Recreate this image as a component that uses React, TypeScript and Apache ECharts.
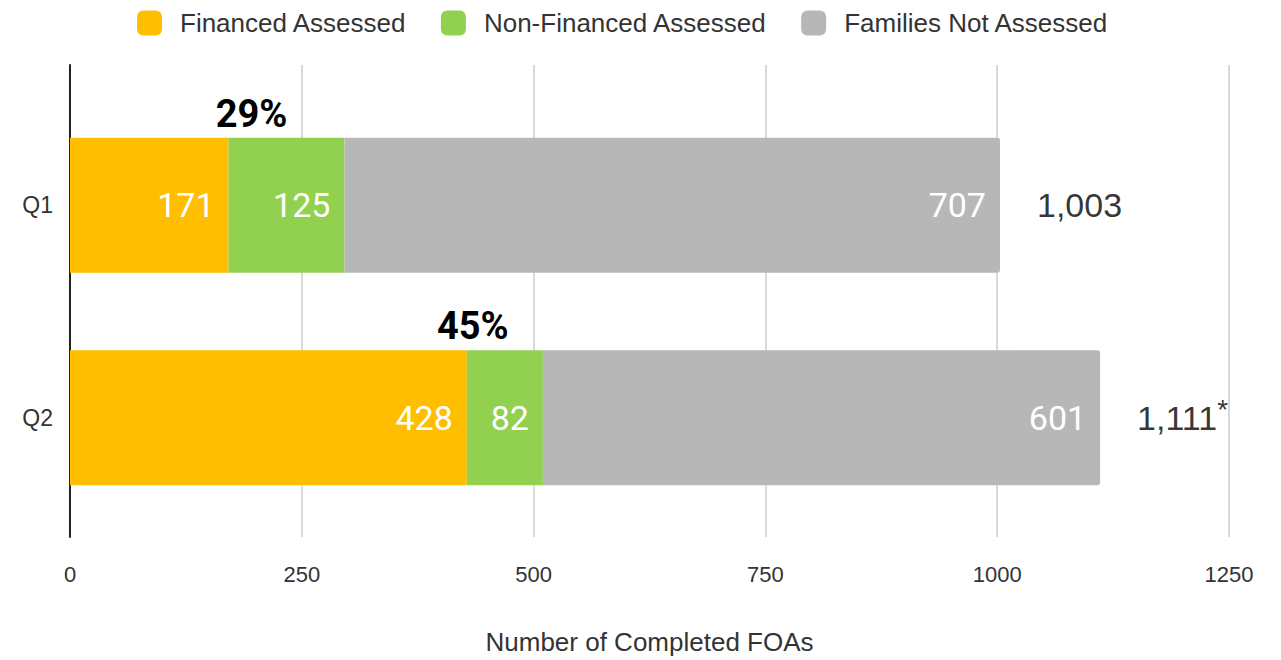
import React, { useEffect, useRef } from "react";
import * as echarts from "echarts";

const categories = ["Q1", "Q2"];
const financed = [171, 428];
const nonFinanced = [125, 82];
const notAssessed = [707, 601];
const totals = [1003, 1111];
const totalLabels = ["1,003", "1,111{sup|*}"];
const pctLabels = ["29%", "45%"];
const xTicks = [0, 250, 500, 750, 1000, 1250];

const LABEL_FONT = "Roboto, 'Noto Sans', sans-serif";
const TEXT_FONT = "'Liberation Sans', Arial, sans-serif";

export default function App() {
  const ref = useRef<HTMLDivElement>(null);
  useEffect(() => {
    if (!ref.current) return;
    const chart = echarts.init(ref.current, undefined, { renderer: "svg" });
    const inside = {
      show: true,
      position: "insideRight",
      distance: 14,
      color: "#fff",
      fontSize: 34,
      fontFamily: LABEL_FONT,
    };
    chart.setOption({
      animation: false,
      legend: {
        top: 5,
        left: 132,
        itemWidth: 25,
        itemHeight: 25,
        itemGap: 34,
        icon: "roundRect",
        textStyle: { fontSize: 26, color: "#333", fontFamily: TEXT_FONT, padding: [0, 0, 0, 13] },
        data: ["Financed Assessed", "Non-Financed Assessed", "Families Not Assessed"],
      },
      grid: [
        { left: 70, width: 1159, top: 99, height: 425 },
        { left: 70, width: 1159, top: 65, height: 490 },
      ],
      xAxis: [
        { gridIndex: 0, type: "value", min: 0, max: 1250, show: false },
        {
          gridIndex: 1,
          type: "value",
          min: 0,
          max: 1250,
          interval: 250,
          axisLine: { show: false },
          axisTick: { show: false },
          splitLine: { show: true, lineStyle: { color: "#cccccc", width: 1.5 } },
          axisLabel: {
            margin: 26,
            fontSize: 22,
            color: "#333",
            fontFamily: TEXT_FONT,
            formatter: (v: number) => (xTicks.includes(v) ? String(v) : ""),
          },
          name: "Number of Completed FOAs",
          nameLocation: "middle",
          nameGap: 92,
          nameTextStyle: { fontSize: 26, color: "#333", fontFamily: TEXT_FONT },
        },
      ],
      yAxis: [
        {
          gridIndex: 0,
          type: "category",
          data: categories,
          inverse: true,
          axisLine: { show: false },
          axisTick: { show: false },
          axisLabel: { margin: 17, fontSize: 23, color: "#333", fontFamily: TEXT_FONT },
        },
        {
          gridIndex: 1,
          type: "value",
          min: 0,
          max: 1,
          axisLine: { show: true, lineStyle: { color: "#222", width: 2 } },
          axisTick: { show: false },
          axisLabel: { show: false },
          splitLine: { show: false },
        },
      ],
      series: [
        {
          name: "Financed Assessed",
          type: "bar",
          stack: "total",
          barWidth: 135,
          itemStyle: { color: "#FFBF00" },
          label: inside,
          data: financed,
        },
        {
          name: "Non-Financed Assessed",
          type: "bar",
          stack: "total",
          barWidth: 135,
          itemStyle: { color: "#92D050" },
          label: inside,
          data: nonFinanced,
        },
        {
          name: "Families Not Assessed",
          type: "bar",
          stack: "total",
          barWidth: 135,
          itemStyle: { color: "#B7B7B7", borderRadius: [0, 3, 3, 0] },
          label: inside,
          data: notAssessed,
        },
        {
          name: "pct",
          type: "bar",
          stack: "pct",
          barWidth: 135,
          barGap: "-100%",
          silent: true,
          itemStyle: { color: "rgba(0,0,0,0)" },
          data: financed.map((f, i) => ({
            value: f + nonFinanced[i],
            label: {
              show: true,
              position: "top",
              distance: 5,
              offset: [-(f + nonFinanced[i]) * (1159 / 1250) / 2 + f * (1159 / 1250) + 23 - (i === 1 ? 17 : 0), 0],
              formatter: pctLabels[i],
              fontSize: 38,
              fontWeight: "bold",
              color: "#000",
              fontFamily: LABEL_FONT,
            },
          })),
          z: 1,
        },
        {
          name: "total",
          type: "scatter",
          symbolSize: 0,
          silent: true,
          data: totals.map((t, i) => [t, categories[i]]),
          label: {
            show: true,
            position: "right",
            distance: 37,
            fontSize: 34,
            color: "#000",
            fontFamily: TEXT_FONT,
            formatter: (p: any) => totalLabels[p.dataIndex],
            rich: {
              sup: { fontSize: 28, color: "#000", fontFamily: TEXT_FONT, verticalAlign: "top", padding: [0, 0, 16, 0] },
            },
          },
        },
      ],
    });
    return () => chart.dispose();
  }, []);
  return <div ref={ref} style={{ width: 1281, height: 660, position: "absolute", left: 0, top: 0 }} />;
}
